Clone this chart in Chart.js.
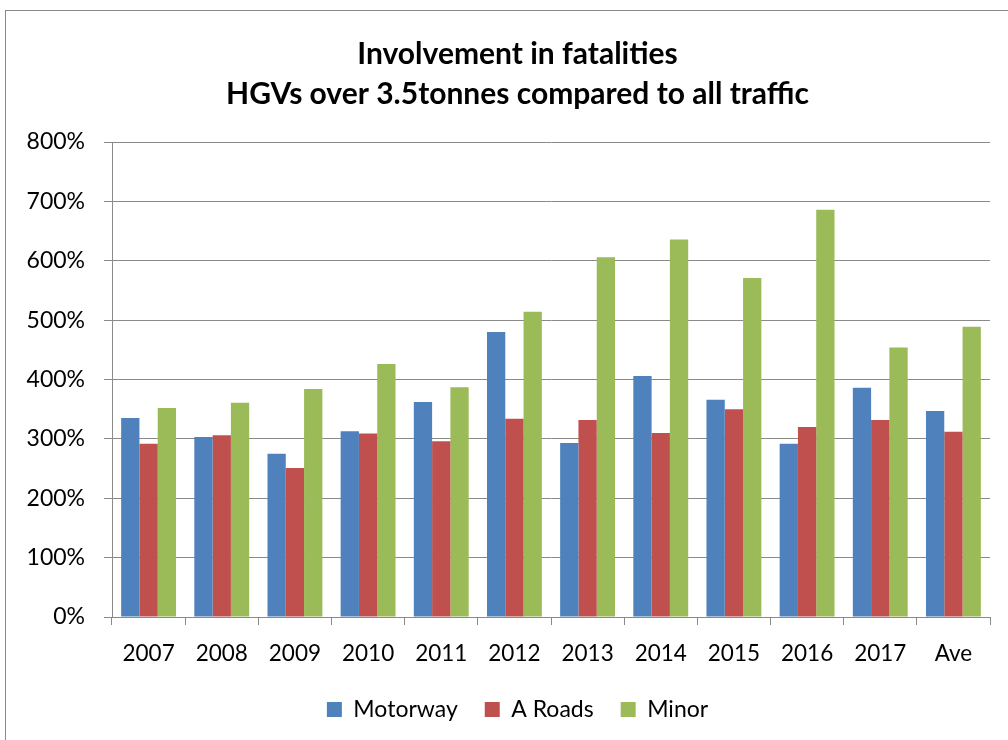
<!DOCTYPE html>
<html><head><meta charset="utf-8">
<script src="https://cdn.jsdelivr.net/npm/chart.js@4.4.1/dist/chart.umd.min.js"></script>
<style>
html,body{margin:0;padding:0;background:#fff;overflow:hidden;width:1008px;height:740px}
#frame{position:absolute;left:5px;top:10px;width:1040px;height:800px;border:1px solid #8a8a8a;box-sizing:border-box}
#wrap{position:absolute;left:2px;top:0;width:1028px;height:731px}
</style></head><body>
<div id="frame"></div>
<div id="wrap"><canvas id="c"></canvas></div>
<script>
const categories = ['2007','2008','2009','2010','2011','2012','2013','2014','2015','2016','2017','Ave'];
const motorway = [335, 303, 275, 313, 362, 480, 293, 406, 366, 292, 386, 347];
const aRoads   = [292, 306, 251, 309, 296, 334, 332, 310, 350, 320, 332, 312];
const minor    = [352, 361, 384, 426, 387, 514, 606, 636, 571, 686, 454, 489];
const seriesNames = ['Motorway', 'A Roads', 'Minor'];
const titleLines = ['Involvement in fatalities', 'HGVs over 3.5tonnes compared to all traffic'];
const yMin = 0, yMax = 800, yStep = 100;

const FONT = 'Lato, "Liberation Sans", sans-serif';
const GRID = '#8a8a8a';

// centre title and legend on the whole chart frame (not just the plot area)
const recenter = {
  id: 'recenter',
  afterLayout(chart) {
    if (chart.titleBlock) chart.titleBlock.left = 43;
    if (chart.legend) chart.legend.left = 43;
  }
};

new Chart(document.getElementById('c'), {
  type: 'bar',
  data: {
    labels: categories,
    datasets: [
      {label: seriesNames[0], data: motorway, backgroundColor: '#4F81BD'},
      {label: seriesNames[1], data: aRoads, backgroundColor: '#C0504D'},
      {label: seriesNames[2], data: minor, backgroundColor: '#9BBB59'}
    ]
  },
  plugins: [recenter],
  options: {
    responsive: true,
    maintainAspectRatio: false,
    animation: false,
    layout: {padding: {left: 0, right: 40, top: 0, bottom: 0}},
    datasets: {bar: {categoryPercentage: 0.75, barPercentage: 1.0}},
    plugins: {
      title: {
        display: true,
        text: titleLines,
        color: '#000',
        font: {family: FONT, size: 30, weight: 'bold', lineHeight: 1.3334},
        padding: {top: 34, bottom: 28}
      },
      legend: {
        position: 'bottom',
        labels: {
          color: '#000',
          font: {family: FONT, size: 23},
          boxWidth: 15, boxHeight: 15,
          padding: 27
        }
      },
      tooltip: {enabled: false}
    },
    scales: {
      x: {
        grid: {display: true, drawOnChartArea: false, drawTicks: true, tickLength: 8, color: GRID, offset: true},
        border: {color: GRID, width: 1},
        ticks: {color: '#000', font: {family: FONT, size: 22.5}, padding: 15, maxRotation: 0},
        afterFit: s => { s.height = 54; }
      },
      y: {
        min: yMin, max: yMax,
        grid: {color: GRID, lineWidth: 1, tickLength: 8},
        border: {color: GRID, width: 1},
        ticks: {stepSize: yStep, color: '#000', font: {family: FONT, size: 23}, padding: 19,
                callback: v => v + '%'},
        afterFit: s => { s.width = 110; }
      }
    }
  }
});
</script>
</body></html>
